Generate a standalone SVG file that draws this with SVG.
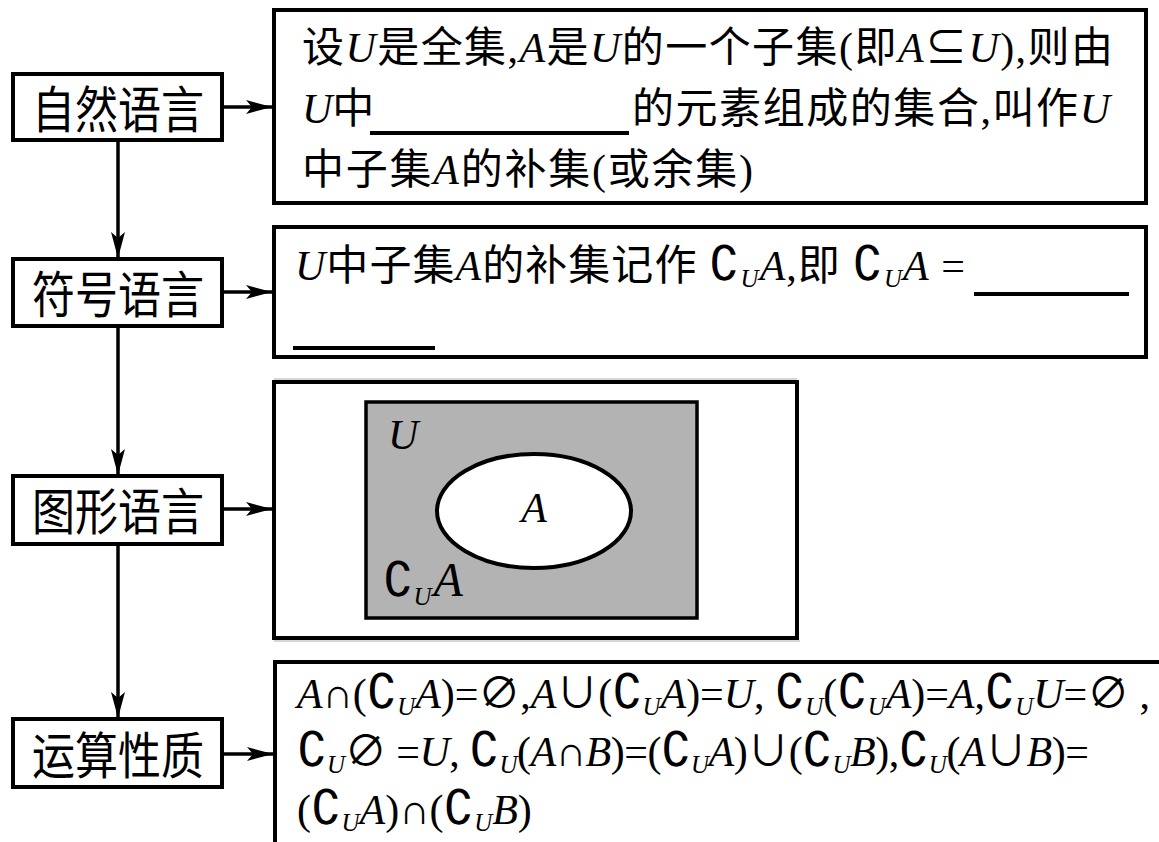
<svg xmlns="http://www.w3.org/2000/svg" width="1159" height="842" viewBox="0 0 1159 842">
<style>
.box{fill:#fff;stroke:#000;stroke-width:4}
.lbl{font-family:"Noto Sans CJK SC","Noto Sans CJK JP",sans-serif;font-size:50px;fill:#000}
.txt{font-family:"Liberation Serif","Noto Sans CJK SC",serif;font-size:42px;fill:#000}
.v{font-style:italic;font-family:"Liberation Serif","DejaVu Serif",serif}
.c{font-family:"DejaVu Serif","DejaVu Sans",serif;font-style:normal;font-size:48px}
.s{font-size:25px}
.ul{stroke:#000;stroke-width:4}
.conn{stroke:#000;stroke-width:3.5;fill:none}
.faint{stroke:#c8c8c8;stroke-width:1.5}
</style>
<defs>
<marker id="ah" viewBox="0 0 26 14" markerUnits="userSpaceOnUse" markerWidth="26" markerHeight="14" refX="26" refY="7" orient="auto">
<path d="M0,0 L26,7 L0,14 L6,7 Z" fill="#000"/>
</marker>
</defs>

<g id="connectors">
<line class="conn" x1="118" y1="140" x2="118" y2="258" marker-end="url(#ah)"/>
<line class="conn" x1="118" y1="326" x2="118" y2="475" marker-end="url(#ah)"/>
<line class="conn" x1="118" y1="544" x2="118" y2="718" marker-end="url(#ah)"/>
<line class="conn" x1="222" y1="107" x2="272" y2="107" marker-end="url(#ah)"/>
<line class="conn" x1="222" y1="292" x2="272" y2="292" marker-end="url(#ah)"/>
<line class="conn" x1="222" y1="509" x2="272" y2="509" marker-end="url(#ah)"/>
<line class="conn" x1="222" y1="754" x2="273" y2="754" marker-end="url(#ah)"/>
</g>

<g id="n-natural">
<rect class="box" x="13" y="74" width="209" height="66"/>
<text class="lbl" x="32" y="128" textLength="172" lengthAdjust="spacingAndGlyphs">自然语言</text>
</g>
<g id="n-symbol">
<rect class="box" x="13" y="259" width="209" height="67"/>
<text class="lbl" x="32" y="313" textLength="172" lengthAdjust="spacingAndGlyphs">符号语言</text>
</g>
<g id="n-graphic">
<rect class="box" x="13" y="476" width="209" height="68"/>
<text class="lbl" x="32" y="530" textLength="172" lengthAdjust="spacingAndGlyphs">图形语言</text>
</g>
<g id="n-ops">
<rect class="box" x="13" y="719" width="209" height="68"/>
<text class="lbl" x="32" y="774" textLength="172" lengthAdjust="spacingAndGlyphs">运算性质</text>
</g>

<g id="t-natural">
<rect class="box" x="274" y="10" width="872" height="193"/>
<text class="txt" x="302" y="62" textLength="811" lengthAdjust="spacing">设<tspan class="v">U</tspan>是全集,<tspan class="v">A</tspan>是<tspan class="v">U</tspan>的一个子集(即<tspan class="v">A</tspan>⊆<tspan class="v">U</tspan>),则由</text>
<text class="txt" x="302" y="123"><tspan class="v">U</tspan>中</text>
<line class="ul" x1="370" y1="133" x2="629" y2="133"/>
<text class="txt" x="632" y="123" textLength="478" lengthAdjust="spacing">的元素组成的集合,叫作<tspan class="v">U</tspan></text>
<text class="txt" x="302" y="184" textLength="451" lengthAdjust="spacing">中子集<tspan class="v">A</tspan>的补集(或余集)</text>
</g>

<g id="t-symbol">
<rect class="box" x="274" y="227" width="872" height="130"/>
<text class="txt" x="295" y="280" textLength="670" lengthAdjust="spacing"><tspan class="v">U</tspan>中子集<tspan class="v">A</tspan>的补集记作 <tspan class="c">∁</tspan><tspan class="v s" dy="7">U</tspan><tspan class="v" dy="-7">A</tspan>,即 <tspan class="c">∁</tspan><tspan class="v s" dy="7">U</tspan><tspan class="v" dy="-7">A</tspan> =</text>
<line class="ul" x1="974" y1="294" x2="1129" y2="294"/>
<line class="ul" x1="293" y1="348" x2="435" y2="348"/>
</g>

<g id="t-graphic">
<line class="faint" x1="274" y1="379" x2="797" y2="379"/>
<rect class="box" x="274" y="382" width="523" height="256"/>
<line class="faint" x1="274" y1="641" x2="800" y2="641"/>
<rect x="366" y="402" width="331" height="216" fill="#b3b3b3" stroke="#000" stroke-width="3.5"/>
<ellipse cx="534" cy="511" rx="97" ry="57" fill="#fff" stroke="#000" stroke-width="4"/>
<text class="txt v" x="388" y="449" font-size="48">U</text>
<text class="txt v" x="534" y="522" font-size="48" text-anchor="middle">A</text>
<text class="txt" x="383" y="596"><tspan class="c" font-size="56">∁</tspan><tspan class="v" font-size="25" dy="9">U</tspan><tspan class="v" font-size="48" dx="2" dy="-9">A</tspan></text>
</g>

<g id="t-ops">
<rect class="box" x="275" y="662" width="920" height="220"/>
<text class="txt" x="297" y="708" textLength="853" lengthAdjust="spacing"><tspan class="v">A</tspan>∩(<tspan class="c">∁</tspan><tspan class="v s" dy="7">U</tspan><tspan class="v" dy="-7">A</tspan>)=∅,<tspan class="v">A</tspan>∪(<tspan class="c">∁</tspan><tspan class="v s" dy="7">U</tspan><tspan class="v" dy="-7">A</tspan>)=<tspan class="v">U</tspan>, <tspan class="c">∁</tspan><tspan class="v s" dy="7">U</tspan><tspan dy="-7">(</tspan><tspan class="c">∁</tspan><tspan class="v s" dy="7">U</tspan><tspan class="v" dy="-7">A</tspan>)=<tspan class="v">A</tspan>,<tspan class="c">∁</tspan><tspan class="v s" dy="7">U</tspan><tspan class="v" dy="-7">U</tspan>=∅ ,</text>
<text class="txt" x="297" y="766" textLength="792" lengthAdjust="spacing"><tspan class="c">∁</tspan><tspan class="v s" dy="7">U</tspan><tspan dy="-7">∅ =</tspan><tspan class="v">U</tspan>, <tspan class="c">∁</tspan><tspan class="v s" dy="7">U</tspan><tspan dy="-7">(</tspan><tspan class="v">A</tspan>∩<tspan class="v">B</tspan>)=(<tspan class="c">∁</tspan><tspan class="v s" dy="7">U</tspan><tspan class="v" dy="-7">A</tspan>)∪(<tspan class="c">∁</tspan><tspan class="v s" dy="7">U</tspan><tspan class="v" dy="-7">B</tspan>),<tspan class="c">∁</tspan><tspan class="v s" dy="7">U</tspan><tspan dy="-7">(</tspan><tspan class="v">A</tspan>∪<tspan class="v">B</tspan>)=</text>
<text class="txt" x="297" y="824">(<tspan class="c">∁</tspan><tspan class="v s" dy="7">U</tspan><tspan class="v" dy="-7">A</tspan>)∩(<tspan class="c">∁</tspan><tspan class="v s" dy="7">U</tspan><tspan class="v" dy="-7">B</tspan>)</text>
</g>
</svg>
